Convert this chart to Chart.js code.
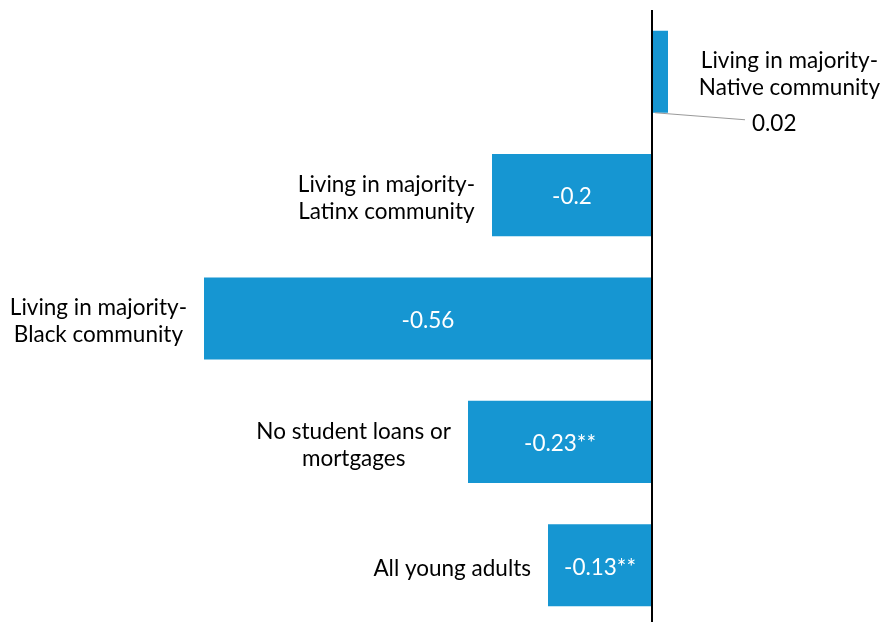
<!DOCTYPE html>
<html lang="en">
<head>
    <meta charset="UTF-8">
    <title>Young adults by community</title>
    <script src="https://cdn.jsdelivr.net/npm/chart.js"></script>
    <style>
        html, body { margin: 0; padding: 0; background: #fff; overflow: hidden; }
        #wrap { width: 882px; height: 627px; }
    </style>
</head>
<body>
    <div id="wrap"><canvas id="gapChart" width="882" height="627"></canvas></div>

    <script>
        // Category labels (one entry per line) and values
        const categories = [
            ['Living in majority-', 'Native community'],
            ['Living in majority-', 'Latinx community'],
            ['Living in majority-', 'Black community'],
            ['No student loans or', 'mortgages'],
            ['All young adults']
        ];
        const values = [0.02, -0.2, -0.56, -0.23, -0.13];
        const valueLabels = ['0.02', '-0.2', '-0.56', '-0.23**', '-0.13**'];

        const FONT = '"Lato", "Noto Sans", sans-serif';
        const BLUE = '#1696d2';

        // Zero line, category labels, value labels and the leader line for the small bar
        const annotate = {
            id: 'annotate',
            afterDatasetsDraw(chart) {
                const ctx = chart.ctx;
                const area = chart.chartArea;
                const x0 = chart.scales.x.getPixelForValue(0);
                const bars = chart.getDatasetMeta(0).data;

                ctx.save();
                ctx.font = '22.5px ' + FONT;
                ctx.textBaseline = 'middle';
                const lineH = 27;
                const nudge = 2; // Lato sits a little high with 'middle'

                bars.forEach((bar, i) => {
                    const lines = categories[i];
                    const widest = Math.max(...lines.map(l => ctx.measureText(l).width));
                    const v = values[i];
                    let cx;
                    if (v < 0) {
                        cx = bar.x - 17 - widest / 2;
                    } else {
                        cx = 880 - widest / 2;
                    }
                    const top = bar.y - (lines.length - 1) * lineH / 2 + 1 + nudge;
                    ctx.fillStyle = '#000';
                    ctx.textAlign = 'center';
                    lines.forEach((l, k) => ctx.fillText(l, cx, top + k * lineH));

                    // value label
                    if (v < 0) {
                        ctx.fillStyle = '#fff';
                        ctx.textAlign = 'center';
                        ctx.fillText(valueLabels[i], (bar.x + x0) / 2, bar.y + nudge);
                    } else {
                        const bottom = bar.y + bar.height / 2;
                        ctx.strokeStyle = '#9a9a9a';
                        ctx.lineWidth = 1.2;
                        ctx.beginPath();
                        ctx.moveTo(x0 + 3, bottom);
                        ctx.lineTo(745, bottom + 7);
                        ctx.stroke();
                        ctx.fillStyle = '#000';
                        ctx.textAlign = 'left';
                        ctx.fillText(valueLabels[i], 752, bottom + 9 + nudge);
                    }
                });

                ctx.strokeStyle = '#000';
                ctx.lineWidth = 2;
                ctx.beginPath();
                ctx.moveTo(x0, area.top);
                ctx.lineTo(x0, chart.height);
                ctx.stroke();
                ctx.restore();
            }
        };

        new Chart(document.getElementById('gapChart'), {
            type: 'bar',
            data: {
                labels: categories.map(c => c.join(' ')),
                datasets: [{
                    data: values,
                    backgroundColor: BLUE,
                    borderWidth: 0,
                    barPercentage: 0.665,
                    categoryPercentage: 1
                }]
            },
            options: {
                indexAxis: 'y',
                responsive: false,
                animation: false,
                layout: { padding: { top: 10, left: 0, right: 0, bottom: 0 } },
                plugins: {
                    legend: { display: false },
                    tooltip: { enabled: false }
                },
                scales: {
                    x: { display: false, min: -0.815, max: 0.2875 },
                    y: { display: false }
                }
            },
            plugins: [annotate]
        });
    </script>
</body>
</html>
